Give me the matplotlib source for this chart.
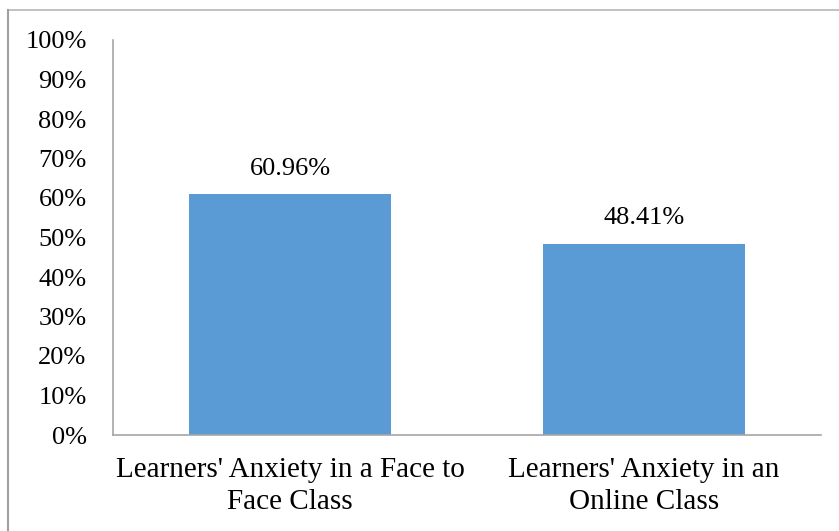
import matplotlib
matplotlib.use('Agg')
import matplotlib.pyplot as plt
from matplotlib.lines import Line2D

categories = ["Learners' Anxiety in a Face to\nFace Class", "Learners' Anxiety in an\nOnline Class"]
values = [60.96, 48.41]
labels = ['60.96%', '48.41%']
yticks = list(range(0, 101, 10))

plt.rcParams['font.family'] = ['Liberation Serif', 'DejaVu Serif']

fig = plt.figure(figsize=(8.39, 5.31), dpi=100)
ax = fig.add_axes([113 / 839, 96 / 531, 708 / 839, 395 / 531])

x = range(len(categories))
bars = ax.bar(x, values, width=0.57, color='#5B9BD5', zorder=2)
for b, lab in zip(bars, labels):
    ax.annotate(lab, (b.get_x() + b.get_width() / 2, b.get_height()),
                xytext=(0, 14), textcoords='offset points',
                ha='center', va='baseline', fontsize=19)

ax.set_xlim(-0.5, 1.5)
ax.set_ylim(0, 100)
ax.set_yticks(yticks)
ax.set_yticklabels([f'{t}%' for t in yticks], fontsize=19)
ax.set_xticks(list(x))
ax.set_xticklabels(categories, fontsize=21, linespacing=1.3)
ax.tick_params(axis='both', length=0)
ax.tick_params(axis='y', pad=19)
ax.tick_params(axis='x', pad=16)

for s in ['top', 'right']:
    ax.spines[s].set_visible(False)
for s in ['left', 'bottom']:
    ax.spines[s].set_color('#a6a6a6')
    ax.spines[s].set_linewidth(1.2)

# chart frame: only the top and left edges show in the crop
top = 1 - 10 / 531
fig.add_artist(Line2D([8 / 839, 1], [top, top], transform=fig.transFigure,
                      color='#bdbdbd', linewidth=1.3))
fig.add_artist(Line2D([8 / 839, 8 / 839], [0, top], transform=fig.transFigure,
                      color='#a0a0a0', linewidth=1.5))

fig.savefig('out.png', dpi=100)
